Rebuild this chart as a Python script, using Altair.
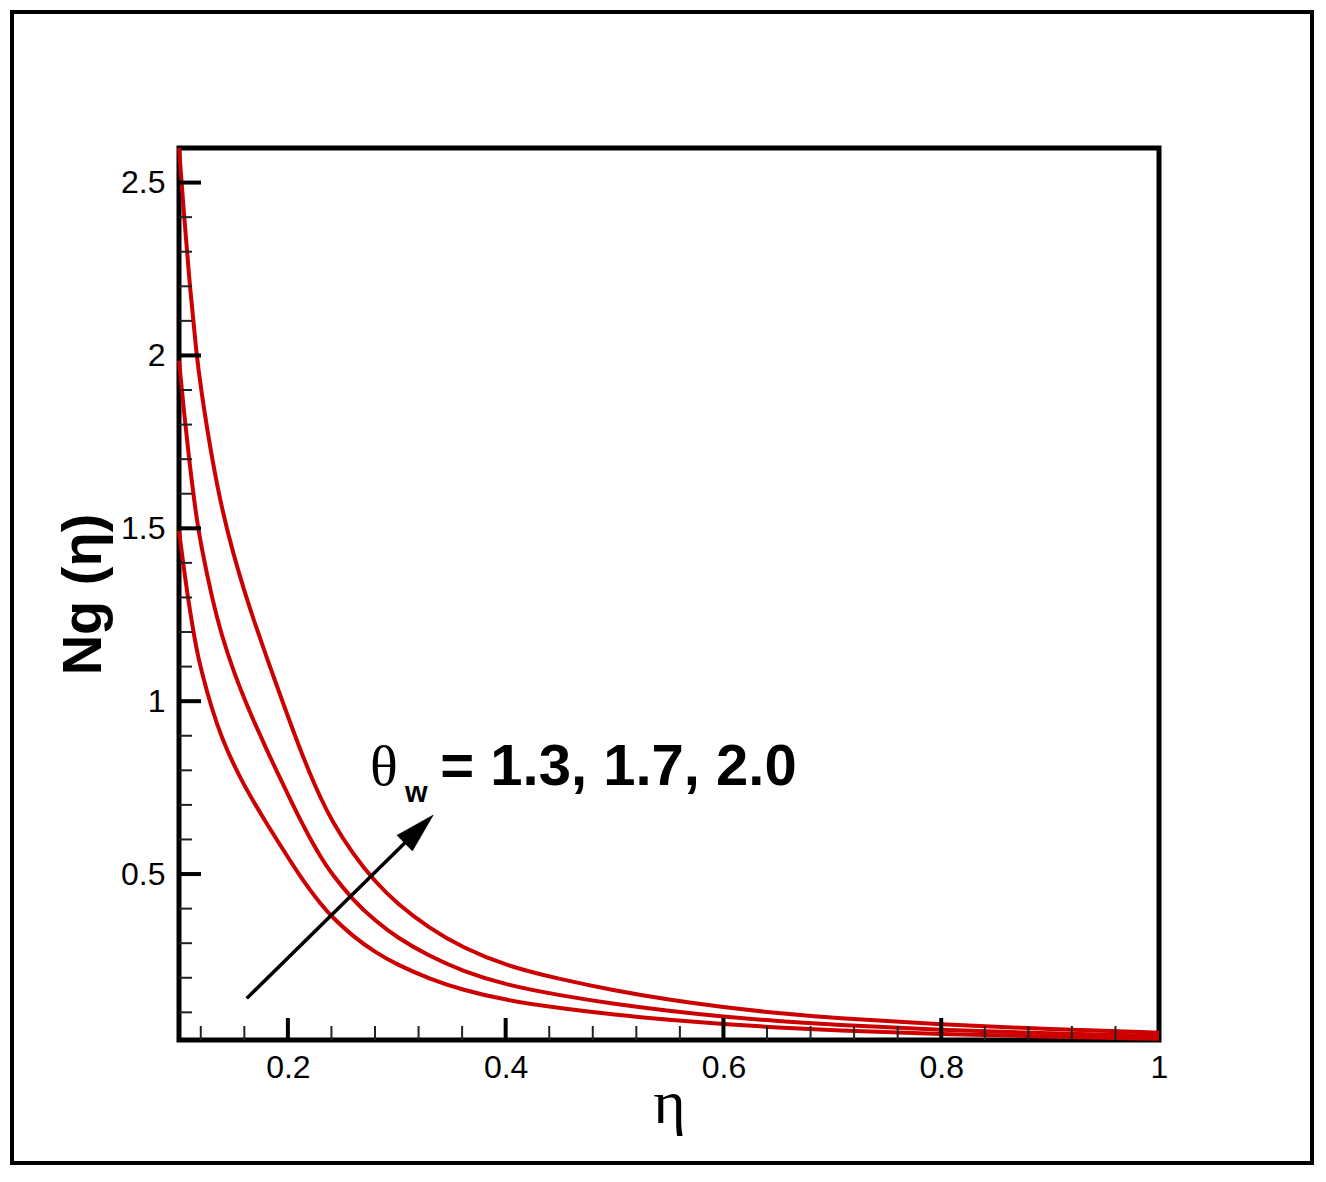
import altair as alt
import pandas as pd

# ---- data ----
theta_w = ["1.3", "1.7", "2.0"]

eta = [0.100, 0.105, 0.110, 0.116, 0.120, 0.130, 0.140, 0.150, 0.160, 0.170,
       0.180, 0.190, 0.200, 0.210, 0.220, 0.230, 0.240, 0.260, 0.280, 0.300,
       0.330, 0.360, 0.400, 0.450, 0.500, 0.550, 0.600, 0.650, 0.700, 0.800,
       0.900, 1.000]

ng_13 = [1.492, 1.371, 1.262, 1.151, 1.094, 0.978, 0.888, 0.818, 0.756, 0.701,
         0.649, 0.598, 0.549, 0.500, 0.455, 0.414, 0.377, 0.319, 0.274, 0.238,
         0.197, 0.165, 0.135, 0.112, 0.0932, 0.0782, 0.0657, 0.0559, 0.0482, 0.037,
         0.0292, 0.0237]

ng_17 = [1.985, 1.824, 1.679, 1.531, 1.455, 1.301, 1.181, 1.088, 1.006, 0.933,
         0.863, 0.796, 0.730, 0.665, 0.605, 0.550, 0.501, 0.424, 0.365, 0.317,
         0.262, 0.220, 0.179, 0.149, 0.124, 0.104, 0.0874, 0.0744, 0.0641, 0.0492,
         0.0389, 0.0315]

ng_20 = [2.600, 2.390, 2.200, 2.005, 1.906, 1.704, 1.547, 1.425, 1.318, 1.222,
         1.131, 1.043, 0.956, 0.871, 0.792, 0.720, 0.656, 0.556, 0.478, 0.415,
         0.343, 0.288, 0.235, 0.1955, 0.163, 0.136, 0.1145, 0.0975, 0.084, 0.0645,
         0.051, 0.0412]

x_major = [0.2, 0.4, 0.6, 0.8, 1.0]
x_minor = [0.12, 0.16, 0.24, 0.28, 0.32, 0.36, 0.44, 0.48, 0.52, 0.56,
           0.64, 0.68, 0.72, 0.76, 0.84, 0.88, 0.92, 0.96]
y_major = [0.5, 1.0, 1.5, 2.0, 2.5]
y_minor = [0.1, 0.2, 0.3, 0.4, 0.6, 0.7, 0.8, 0.9, 1.1, 1.2, 1.3, 1.4,
           1.6, 1.7, 1.8, 1.9, 2.1, 2.2, 2.3, 2.4]

x_domain = [0.1, 1.0]
y_domain = [0.02, 2.6]

# annotation anchors (data coordinates)
arrow_eta = [0.1622, 0.3204]
arrow_ng = [0.1404, 0.630]
label_theta = {"eta": 0.2755, "ng": 0.757, "text": "θ"}
label_sub = {"eta": 0.3075, "ng": 0.708, "text": "w"}
label_vals = {"eta": 0.340, "ng": 0.757, "text": "= 1.3, 1.7, 2.0"}

# ---- build tables ----
rows = []
for tw, ns in zip(theta_w, [ng_13, ng_17, ng_20]):
    for e, n in zip(eta, ns):
        rows.append({"eta": e, "ng": n, "tw": tw})
df = pd.DataFrame(rows)

W, H = 980, 892
xs = alt.Scale(domain=x_domain, nice=False, zero=False)
ys = alt.Scale(domain=y_domain, nice=False, zero=False)

x_axis = alt.Axis(
    values=x_major, format="~g", ticks=False, domain=False, grid=False,
    labelFlush=False, labelOverlap=False, labelFont="Liberation Sans",
    labelFontSize=32, labelColor="black", labelPadding=12,
    title="η", titleFont="Liberation Serif", titleFontSize=62,
    titleFontWeight="normal", titleColor="black", titleY=82,
    titleBaseline="alphabetic")
y_axis = alt.Axis(
    values=y_major, format="~g", ticks=False, domain=False, grid=False,
    labelFlush=False, labelOverlap=False, labelFont="Liberation Sans",
    labelFontSize=32, labelColor="black", labelPadding=14,
    title="Ng (η)", titleFont="Liberation Sans", titleFontSize=56,
    titleFontWeight="bold", titleColor="black", titleX=-79, titleY=H / 2,
    titleBaseline="alphabetic", titleAlign="center")


def X(field):
    return alt.X(field, type="quantitative", scale=xs, axis=x_axis)


def Y(field):
    return alt.Y(field, type="quantitative", scale=ys, axis=y_axis)


curves = alt.Chart(df).mark_line(
    color="#cc0000", strokeWidth=4, interpolate="basis"
).encode(x=X("eta"), y=Y("ng"), detail="tw:N")

ymaj = alt.Chart(pd.DataFrame({"v": y_major})).mark_rule(color="black", strokeWidth=4).encode(
    y=Y("v"), x=alt.value(0), x2=alt.value(22))
ymin = alt.Chart(pd.DataFrame({"v": y_minor})).mark_rule(color="#222222", strokeWidth=2).encode(
    y=Y("v"), x=alt.value(0), x2=alt.value(13))
xmaj = alt.Chart(pd.DataFrame({"v": x_major[:-1]})).mark_rule(color="black", strokeWidth=4).encode(
    x=X("v"), y=alt.value(H), y2=alt.value(H - 22))
xmin = alt.Chart(pd.DataFrame({"v": x_minor})).mark_rule(color="#222222", strokeWidth=2).encode(
    x=X("v"), y=alt.value(H), y2=alt.value(H - 14))

arrow_df = pd.DataFrame({"x1": [arrow_eta[0]], "y1": [arrow_ng[0]],
                         "x2": [arrow_eta[1]], "y2": [arrow_ng[1]]})
arrow_line = alt.Chart(arrow_df).mark_rule(color="black", strokeWidth=3.5).encode(
    x=X("x1"), y=Y("y1"), x2="x2:Q", y2="y2:Q")
arrow_head = alt.Chart(arrow_df).mark_point(
    shape="M 0 -1 L 0.55 1 L -0.55 1 Z", filled=True, fill="black", stroke="black",
    strokeWidth=0.5, opacity=1, size=1600, angle=45.5
).encode(x=X("x2"), y=Y("y2"))


def text_layer(d, font, size, weight):
    return alt.Chart(pd.DataFrame([d])).mark_text(
        font=font, fontSize=size, fontWeight=weight, color="black",
        align="left", baseline="alphabetic"
    ).encode(x=X("eta"), y=Y("ng"), text="text:N")


t1 = text_layer(label_theta, "Liberation Serif", 58, "normal")
t2 = text_layer(label_sub, "Liberation Sans", 29, "bold")
t3 = text_layer(label_vals, "Liberation Sans", 58, "bold")

frame = alt.Chart(pd.DataFrame({"a": [0]})).mark_rect(
    fillOpacity=0, stroke="black", strokeWidth=4
).encode(x=alt.value(-167), x2=alt.value(1133), y=alt.value(-136), y2=alt.value(1015))

chart = alt.layer(
    curves, ymin, ymaj, xmin, xmaj, arrow_line, arrow_head, t1, t2, t3, frame
).properties(
    width=W, height=H,
    autosize=alt.AutoSizeParams(type="none"),
    padding={"left": 171, "top": 140, "right": 157, "bottom": 126},
    background="white",
).configure_view(stroke="black", strokeWidth=5)

chart.save("out.html", embed_options={"renderer": "svg", "actions": False})
